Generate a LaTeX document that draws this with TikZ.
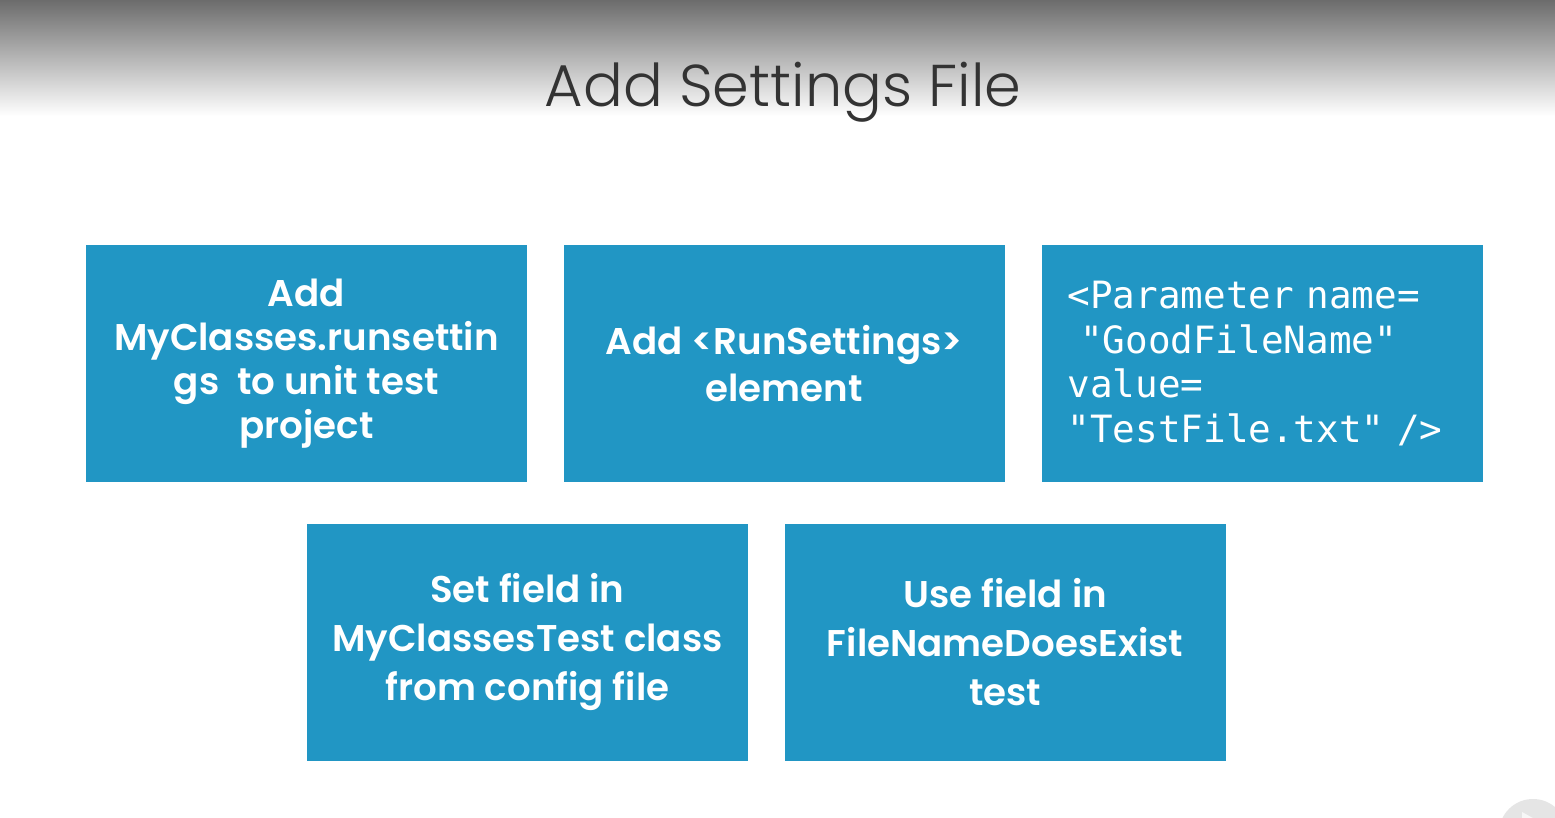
\documentclass[tikz,border=0pt]{standalone}
\usepackage{fontspec}
\usetikzlibrary{positioning}
\setmainfont{Poppins}
\newfontfamily\titlefont{Poppins Light}
\newfontfamily\boxfont{Poppins SemiBold}
\setmonofont{DejaVu Sans Mono}
\definecolor{slideblue}{RGB}{33,150,196}
\definecolor{bandgray}{RGB}{108,108,108}
\definecolor{titlegray}{RGB}{51,51,51}

\begin{document}
\begin{tikzpicture}[x=0.5pt,y=-0.5pt,
  taskbox/.style={fill=slideblue, minimum width=220.5pt, minimum height=118.5pt,
    inner sep=0pt, text=white, align=center},
  boldtext/.style={font=\boxfont\fontsize{18.6}{#1}\selectfont},
  codetext/.style={font=\ttfamily\fontsize{18.8}{22.25}\selectfont}]
% Slide background
\useasboundingbox (0,0) rectangle (1555,818);
\fill[white] (0,0) rectangle (1555,818);
\shade[top color=bandgray, bottom color=white] (0,0) rectangle (1555,116);
\node (title) [font=\titlefont\fontsize{29.5}{30}\selectfont, text=titlegray, anchor=base] at (783,107) {Add Settings File};

% First row
\node (addfile) [taskbox, boldtext=22] at (306.5,363.5) {Add\\MyClasses.runsettin\\gs\ \ to unit test\\project};
\node (addelem) [taskbox, boldtext=23.5, right=18pt of addfile] {Add <RunSettings>\\element};
\node (param) [taskbox, codetext, align=left, text width=194.5pt, right=18pt of addelem] {<Parameter name=\\\ "GoodFileName"\\value=\\"TestFile.txt" />};

% Second row
\node (setfield) [taskbox, boldtext=24.5, below=20.5pt of addfile.south, anchor=north west] {Set field in\\MyClassesTest class\\from config file};
\node (usefield) [taskbox, boldtext=24.5, right=18pt of setfield] {Use field in\\FileNameDoesExist\\test};

% Player button
\fill[black!10] (1533,833) circle (17pt);
\fill[white!70!black!10] (1522,812) -- (1540,822) -- (1522,832) -- cycle;
\end{tikzpicture}
\end{document}
